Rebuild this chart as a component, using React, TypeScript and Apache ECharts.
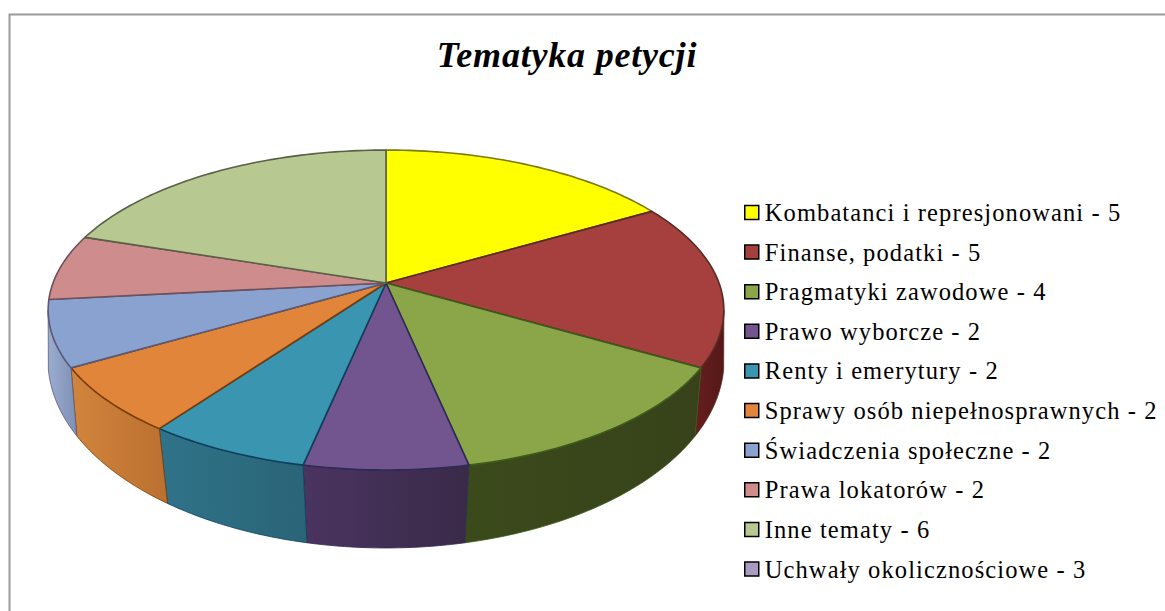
import React, { useEffect, useRef } from "react";
import * as echarts from "echarts";

const titleText = "Tematyka petycji";
const topics = [
  "Kombatanci i represjonowani - 5",
  "Finanse, podatki - 5",
  "Pragmatyki zawodowe - 4",
  "Prawo wyborcze - 2",
  "Renty i emerytury - 2",
  "Sprawy osób niepełnosprawnych - 2",
  "Świadczenia społeczne - 2",
  "Prawa lokatorów - 2",
  "Inne tematy - 6",
  "Uchwały okolicznościowe - 3",
];
// The last topic appears in the legend of the reference but has no slice.
const sliceValues = [5, 5, 4, 2, 2, 2, 2, 2, 6, 0];
const topColors = ["#ffff00", "#a5403f", "#8aa648", "#72548f", "#3a95b0", "#e0853a", "#8aa2cf", "#cf8c8c", "#b7c990", "#a99bc0"];
const edgeColors = ["#7d7a10", "#5a2a20", "#3e5a1a", "#2e2a58", "#0f3f5e", "#7a3c08", "#5a5a78", "#70505a", "#5a6048", "#555"];
const wallLeft = ["#999900", "#671e1e", "#3b4a1b", "#4a3460", "#2f7388", "#d0843c", "#9aaccf", "#8a5050", "#7a8a5c", "#666"];
const wallRight = ["#888800", "#541818", "#37421a", "#3a2a48", "#2a6478", "#bc7030", "#7d90b5", "#8a5050", "#7a8a5c", "#666"];

const total = sliceValues.reduce((a, b) => a + b, 0);
const cumulative = sliceValues.map((_, i) => sliceValues.slice(0, i).reduce((a, b) => a + b, 0));

const CX = 386;
const CY = 283;
// Perspective projection of the top and the bottom disc.
const topDisc = { a: 333, b: 155.4, k: 0.169, h: 0 };
const bottomDisc = { a: 335.6, b: 185.3, k: 0.12, h: 54.4 };
type Disc = typeof topDisc;
const wallLimit = Math.asin(topDisc.k);

function project(d: Disc, theta: number): number[] {
  const u = Math.sin(theta);
  const v = -Math.cos(theta);
  const w = 1 - d.k * v;
  return [CX + (d.a * u) / w, CY + d.h + (d.b * v) / w];
}

function arc(d: Disc, from: number, to: number): number[][] {
  const n = Math.max(2, Math.ceil(Math.abs(to - from) / 0.02));
  const pts: number[][] = [];
  for (let i = 0; i <= n; i++) pts.push(project(d, from + ((to - from) * i) / n));
  return pts;
}

const renderSlice = (index: number) => (_params: any, api: any) => {
  const value = api.value(0);
  if (!value) return { type: "group", children: [] };
  const start = (cumulative[index] / total) * Math.PI * 2;
  const end = ((cumulative[index] + value) / total) * Math.PI * 2;
  const children: any[] = [];
  const wallFrom = Math.max(start, Math.PI / 2 + wallLimit);
  const wallTo = Math.min(end, (Math.PI * 3) / 2 - wallLimit);
  if (wallTo > wallFrom) {
    const topArc = arc(topDisc, wallFrom, wallTo);
    const botArc = arc(bottomDisc, wallFrom, wallTo).reverse();
    children.push({
      type: "polygon",
      shape: { points: topArc.concat(botArc) },
      style: {
        fill: new echarts.graphic.LinearGradient(0, 0, 1, 0, [
          { offset: 0, color: wallLeft[index] },
          { offset: 1, color: wallRight[index] },
        ]),
        stroke: edgeColors[index],
        lineWidth: 0.8,
      },
    });
  }
  children.push({
    type: "polygon",
    shape: { points: [[CX, CY] as number[]].concat(arc(topDisc, start, end)) },
    style: { fill: topColors[index], stroke: edgeColors[index], lineWidth: 1.6, lineJoin: "round" },
  });
  return { type: "group", children };
};

const seriesList = topics.map((name, i) => ({
  type: "custom",
  name,
  coordinateSystem: "none",
  silent: true,
  itemStyle: { color: topColors[i] },
  z: 2,
  renderItem: renderSlice(i),
  data: [[sliceValues[i]]],
}));

const textCss = `
.pie-chart svg text { letter-spacing: 1.1px; }
.pie-chart svg text[style*="italic"] { letter-spacing: 0.8px; }
`;

export default function App() {
  const ref = useRef<HTMLDivElement>(null);
  useEffect(() => {
    document.body.style.margin = "0";
    document.body.style.background = "#fff";
    const chart = echarts.init(ref.current!, null, { renderer: "svg" });
    chart.setOption({
      animation: false,
      backgroundColor: "#ffffff",
      title: {
        text: titleText,
        left: 562,
        top: 32,
        textAlign: "center",
        textStyle: {
          fontFamily: "Liberation Serif",
          fontStyle: "italic",
          fontWeight: "bold",
          fontSize: 36,
          color: "#000",
        },
      },
      legend: {
        orient: "vertical",
        left: 739,
        top: 195,
        itemWidth: 14,
        itemHeight: 14,
        itemGap: 14.62,
        icon: "rect",
        selectedMode: false,
        data: topics,
        itemStyle: { borderColor: "#000", borderWidth: 1.5 },
        textStyle: {
          fontFamily: "Liberation Serif",
          fontSize: 24.5,
          color: "#000",
          padding: [0, 0, 0, 1],
          height: 24,
          lineHeight: 24,
        },
      },
      graphic: [
        {
          type: "polyline",
          silent: true,
          z: 0,
          shape: { points: [[9.5, 611], [9.5, 14.5], [1165, 14.5]] },
          style: { stroke: "#9a9a9a", lineWidth: 2, fill: "none" },
        },
      ],
      series: seriesList,
    });
    return () => chart.dispose();
  }, []);
  return (
    <>
      <style>{textCss}</style>
      <div className="pie-chart" ref={ref} style={{ position: "fixed", left: 0, top: 0, width: 1165, height: 611 }} />
    </>
  );
}
